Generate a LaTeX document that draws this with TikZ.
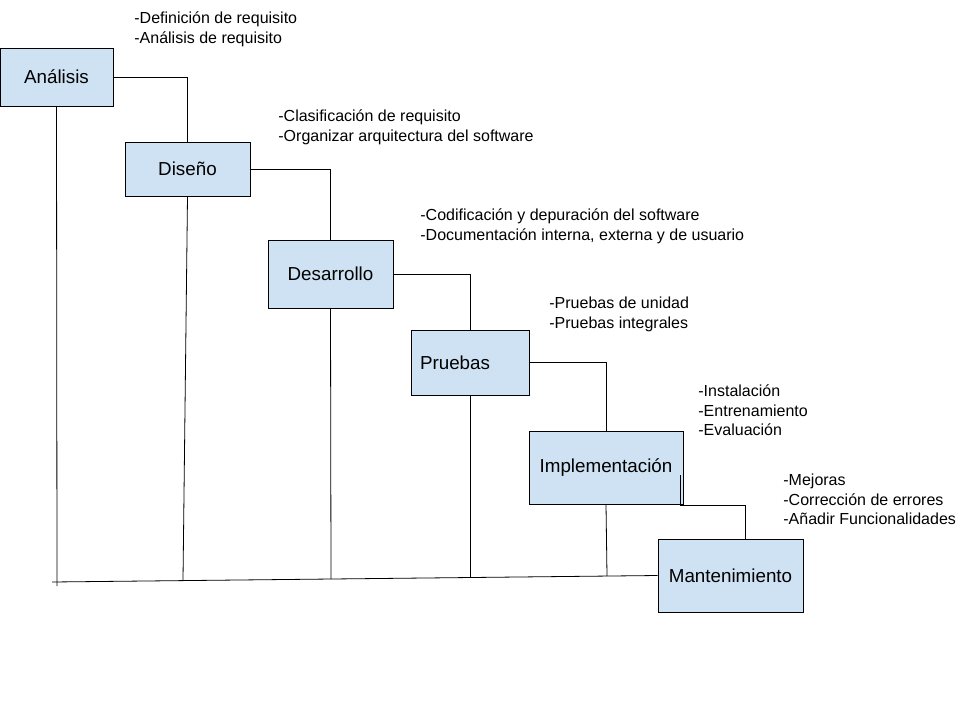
\documentclass[tikz,border=0pt]{standalone}
\usepackage{fontspec}
\setmainfont{Liberation Sans}
\definecolor{boxblue}{HTML}{CFE2F3}

\begin{document}
\begin{tikzpicture}[x=1pt,y=-1pt,line width=0.8pt,
    stage/.style={draw,fill=boxblue,inner sep=0pt,font=\fontsize{18.8}{22}\selectfont},
    notes/.style={anchor=north west,align=left,inner sep=0pt,font=\fontsize{16}{19.6}\selectfont}]
    \useasboundingbox (0,0) rectangle (960,720);
    % etapas
    \node[stage,minimum width=113pt,minimum height=58pt] (analisis) at (56.5,77) {Análisis};
    \node[stage,minimum width=125pt,minimum height=54pt] (diseno) at (187.5,169) {Diseño};
    \node[stage,minimum width=125pt,minimum height=68pt] (desarrollo) at (330.5,274) {Desarrollo};
    \node[stage,minimum width=118pt,minimum height=65pt,text width=100pt,align=left] (pruebas) at (470,362.5) {Pruebas};
    \node[stage,minimum width=154pt,minimum height=73pt] (impl) at (606,467.5) {Implementación};
    \node[stage,minimum width=145pt,minimum height=73pt] (mant) at (730.5,575.5) {Mantenimiento};
    % actividades
    \node[notes] (n1) at (134,11.5) {-Definición de requisito\\-Análisis de requisito};
    \node[notes] (n2) at (278,109.5) {-Clasificación de requisito\\-Organizar arquitectura del software};
    \node[notes] (n3) at (420,208.5) {-Codificación y depuración del software\\-Documentación interna, externa y de usuario};
    \node[notes] (n4) at (549,296.5) {-Pruebas de unidad\\-Pruebas integrales};
    \node[notes] (n5) at (698,384.5) {-Instalación\\-Entrenamiento\\-Evaluación};
    \node[notes] (n6) at (783,473.5) {-Mejoras\\-Corrección de errores\\-Añadir Funcionalidades};
    % cascada
    \draw (analisis.east) -| (diseno.north);
    \draw (diseno.east) -| (desarrollo.north);
    \draw (desarrollo.east) -| (pruebas.north);
    \draw (pruebas.east) -| (impl.north);
    \coordinate (implstub) at (680,475);
    \draw (implstub) -- ++(0,30) -| ([xshift=14.5pt]mant.north);
    % linea base
    \coordinate (base) at (52,582);
    \coordinate (b1) at (57,586);
    \coordinate (b2) at (183,580);
    \coordinate (b3) at (331,579);
    \coordinate (b4) at (470,578);
    \coordinate (b5) at (607,576);
    \draw (base) -- (mant.west);
    \draw (analisis.south) -- (b1);
    \draw (diseno.south) -- (b2);
    \draw (desarrollo.south) -- (b3);
    \draw (pruebas.south) -- (b4);
    \draw (impl.south) -- (b5);
\end{tikzpicture}
\end{document}
